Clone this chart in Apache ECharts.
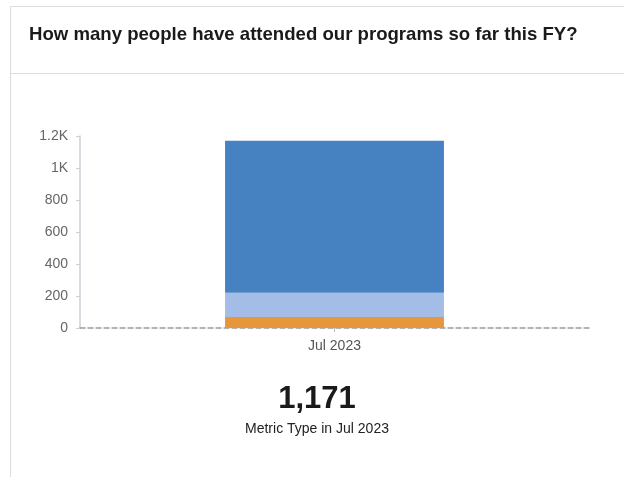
<!DOCTYPE html>
<html>
<head>
<meta charset="utf-8">
<script src="https://cdn.jsdelivr.net/npm/echarts@6/dist/echarts.min.js"></script>
<style>
  html, body { margin: 0; padding: 0; background: #fff; }
  #chart { width: 624px; height: 477px; }
</style>
</head>
<body>
<div id="chart"></div>
<script>
// Monthly attendance, split by metric type
const categories = ['Jul 2023'];
const seriesNames = ['Type A', 'Type B', 'Type C'];
const orangeValues = [68];
const lightBlueValues = [152];
const darkBlueValues = [951];
const totalLabel = '1,171';
const subLabel = 'Metric Type in Jul 2023';
const titleText = 'How many people have attended our programs so far this FY?';

const chart = echarts.init(document.getElementById('chart'), null, { renderer: 'canvas' });
const font = 'Arial, "Liberation Sans", sans-serif';

chart.setOption({
  animation: false,
  textStyle: { fontFamily: font },
  grid: { left: 80, right: 35, top: 136, height: 192 },
  xAxis: {
    type: 'category',
    data: categories,
    axisLine: { lineStyle: { color: '#9a9a9a', type: [5, 3], width: 1.5 } },
    axisTick: { show: true, alignWithLabel: true, length: 4, lineStyle: { color: '#bbb' } },
    axisLabel: { color: '#555', fontSize: 14, margin: 11, fontFamily: font }
  },
  yAxis: {
    type: 'value',
    min: 0, max: 1200, interval: 200,
    axisLine: { show: true, lineStyle: { color: '#ccd0d6', width: 1.5 } },
    axisTick: { show: true, length: 4, lineStyle: { color: '#ccd0d6' } },
    splitLine: { show: false },
    axisLabel: {
      color: '#666', fontSize: 14, margin: 12, fontFamily: font,
      formatter: v => v >= 1000 ? (v / 1000) + 'K' : String(v)
    }
  },
  series: [
    { name: seriesNames[0], type: 'bar', stack: 'total', data: orangeValues, barWidth: '43%', itemStyle: { color: '#e6963b' } },
    { name: seriesNames[1], type: 'bar', stack: 'total', data: lightBlueValues, itemStyle: { color: '#a3bde6' } },
    { name: seriesNames[2], type: 'bar', stack: 'total', data: darkBlueValues, itemStyle: { color: '#4682c2' } }
  ],
  graphic: [
    // card outline and header divider
    { type: 'line', shape: { x1: 10, y1: 6.5, x2: 624, y2: 6.5 }, style: { stroke: '#dcdcdc', lineWidth: 1 } },
    { type: 'line', shape: { x1: 10.5, y1: 6, x2: 10.5, y2: 477 }, style: { stroke: '#dcdcdc', lineWidth: 1 } },
    { type: 'line', shape: { x1: 10, y1: 73.5, x2: 624, y2: 73.5 }, style: { stroke: '#dcdcdc', lineWidth: 1 } },
    { type: 'text', x: 29, y: 35, style: { text: titleText, font: 'bold 18.6px ' + font, fill: '#1a1a1a', textVerticalAlign: 'middle' } },
    { type: 'text', x: 317, y: 399, style: { text: totalLabel, font: 'bold 31px ' + font, fill: '#1a1a1a', textAlign: 'center', textVerticalAlign: 'middle' } },
    { type: 'text', x: 317, y: 429, style: { text: subLabel, font: '14px ' + font, fill: '#222', textAlign: 'center', textVerticalAlign: 'middle' } }
  ]
});
</script>
</body>
</html>
